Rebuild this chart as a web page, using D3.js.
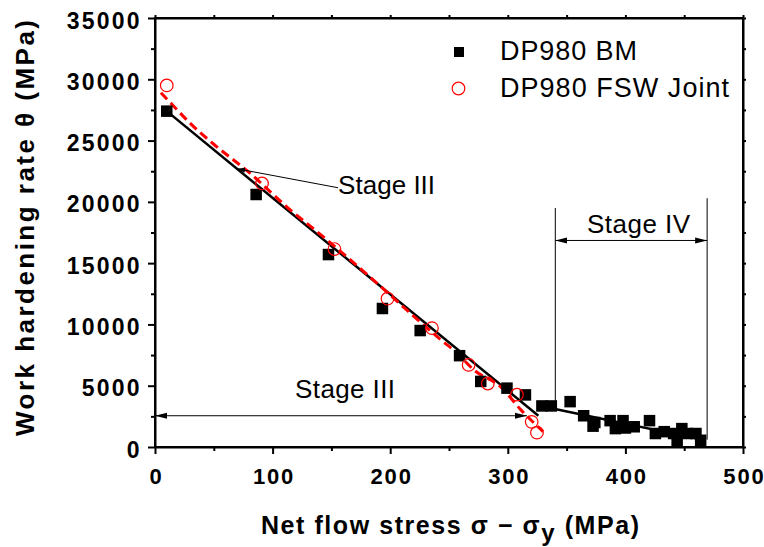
<!DOCTYPE html>
<html><head><meta charset="utf-8">
<script src="https://cdn.jsdelivr.net/npm/d3@7/dist/d3.min.js"></script>
<style>
body{margin:0;background:#fff}
svg{display:block;font-family:"Liberation Sans",Arial,sans-serif}
</style>
</head><body>
<script>
// ---------------- data ----------------
const xTicks = [0, 100, 200, 300, 400, 500];
const xMinor = [50, 150, 250, 350, 450];
const yTicks = [0, 5000, 10000, 15000, 20000, 25000, 30000, 35000];
const yMinor = [2500, 7500, 12500, 17500, 22500, 27500, 32500];

const bmX = [10, 86, 147.5, 193.4, 225.5, 259, 277, 299.3, 315, 329, 337, 353, 364.5, 372.5, 374, 387, 391.5, 398, 400, 407.5, 420.5, 425.5, 433, 441, 444, 448, 452.5, 460, 464];
const bmY = [27400, 20600, 15700, 11300, 9500, 7450, 5350, 4800, 4250, 3350, 3350, 3700, 2550, 1700, 2000, 2150, 1500, 2150, 1550, 1650, 2150, 1100, 1250, 1100, 450, 1500, 1100, 1100, 550];

const fswX = [10, 91, 152.6, 197.7, 235.5, 266.7, 283, 307.8, 320.3, 324.8];
const fswY = [29500, 21500, 16150, 12100, 9700, 6700, 5180, 4270, 2050, 1170];

const fitCurveX = [5, 15, 30, 50, 80, 112, 145, 186, 215, 243, 257, 271, 294, 311, 330];
const fitCurveY = [28900, 27900, 26400, 24700, 22400, 19600, 17000, 13600, 11100, 8750, 7650, 6300, 4900, 3050, 1250];

const fitLine1X = [10, 326];
const fitLine1Y = [27400, 2550];
const fitLine2X = [333, 465];
const fitLine2Y = [3250, 600];

const legendLabels = ["DP980 BM", "DP980 FSW Joint"];
const xTitle = ["Net flow stress \u03c3 \u2212 \u03c3", "y", " (MPa)"];
const yTitle = "Work hardening rate \u03b8 (MPa)";
const stageLabels = ["Stage III", "Stage III", "Stage IV"];

// ---------------- layout ----------------
const W = 764, H = 547;
const L = 155, R = 743, T = 18, B = 447;
const x = d3.scaleLinear().domain([0, 500]).range([L, R]);
const y = d3.scaleLinear().domain([0, 35000]).range([B, T]);

const svg = d3.select("body").append("svg").attr("width", W).attr("height", H);
svg.append("rect").attr("width", W).attr("height", H).attr("fill", "#fff");

const defs = svg.append("defs");
defs.append("marker").attr("id", "arr").attr("markerUnits", "userSpaceOnUse")
  .attr("markerWidth", 14).attr("markerHeight", 8).attr("refX", 12).attr("refY", 4)
  .attr("orient", "auto-start-reverse").attr("viewBox", "0 0 14 8")
  .append("path").attr("d", "M0,1 L12,4 L0,7 Z").attr("fill", "#000");
defs.append("marker").attr("id", "arrS").attr("markerUnits", "userSpaceOnUse")
  .attr("markerWidth", 10).attr("markerHeight", 6).attr("refX", 8).attr("refY", 3)
  .attr("orient", "auto-start-reverse").attr("viewBox", "0 0 10 6")
  .append("path").attr("d", "M0,0.5 L8,3 L0,5.5 Z").attr("fill", "#000");

function fitWidth(sel, target) {
  const node = sel.node();
  const n = node.getNumberOfChars();
  const nat = node.getComputedTextLength();
  const ls = (target - nat) / (n - 1);
  sel.style("letter-spacing", ls + "px");
  return ls;
}

// ---------------- axes ----------------
const tickLSx = 1.8, tickLSy = 2.2;
function styleAxis(g) {
  g.select(".domain").attr("stroke", "#000").attr("stroke-width", 2);
  g.selectAll(".tick line").attr("stroke", "#000").attr("stroke-width", 2);
}
// bottom
const gxB = svg.append("g").attr("transform", `translate(0,${B})`)
  .call(d3.axisBottom(x).tickValues(xTicks).tickSize(7).tickSizeOuter(0).tickFormat(d3.format("d")));
styleAxis(gxB);
gxB.selectAll("text").attr("y", 37).attr("dy", 0).attr("dx", tickLSx / 2)
  .attr("font-size", 22).attr("font-weight", "bold").attr("fill", "#000")
  .attr("font-family", "Liberation Sans, Arial, sans-serif").style("letter-spacing", tickLSx + "px");
const gxBm = svg.append("g").attr("transform", `translate(0,${B})`)
  .call(d3.axisBottom(x).tickValues(xMinor).tickSize(4).tickSizeOuter(0).tickFormat(""));
styleAxis(gxBm); gxBm.select(".domain").remove();
// left
const gyL = svg.append("g").attr("transform", `translate(${L},0)`)
  .call(d3.axisLeft(y).tickValues(yTicks).tickSize(7).tickSizeOuter(0).tickFormat(d3.format("d")));
styleAxis(gyL);
gyL.selectAll("text").attr("x", -15.5 + tickLSy).attr("dy", 0).attr("y", 10)
  .attr("font-size", 23).attr("font-weight", "bold").attr("fill", "#000")
  .attr("font-family", "Liberation Sans, Arial, sans-serif").style("letter-spacing", tickLSy + "px");
const gyLm = svg.append("g").attr("transform", `translate(${L},0)`)
  .call(d3.axisLeft(y).tickValues(yMinor).tickSize(4).tickSizeOuter(0).tickFormat(""));
styleAxis(gyLm); gyLm.select(".domain").remove();
// top
const gxT = svg.append("g").attr("transform", `translate(0,${T})`)
  .call(d3.axisTop(x).tickValues(xTicks.concat(xMinor)).tickSize(3).tickSizeOuter(0).tickFormat(""));
styleAxis(gxT);
// right
const gyR = svg.append("g").attr("transform", `translate(${R},0)`)
  .call(d3.axisRight(y).tickValues(yTicks.concat(yMinor)).tickSize(3).tickSizeOuter(0).tickFormat(""));
styleAxis(gyR);
// frame
svg.append("rect").attr("x", L).attr("y", T).attr("width", R - L).attr("height", B - T)
  .attr("fill", "none").attr("stroke", "#000").attr("stroke-width", 2);

// ---------------- axis titles ----------------
const xt = svg.append("text").attr("x", 261).attr("y", 534)
  .attr("font-size", 25).attr("font-weight", "bold").attr("fill", "#000");
xt.append("tspan").text(xTitle[0]);
xt.append("tspan").attr("dy", 7).attr("font-size", 24).text(xTitle[1]);
xt.append("tspan").attr("dy", -7).text(xTitle[2]);
fitWidth(xt, 378);

const yt = svg.append("text").attr("transform", "translate(34,436) rotate(-90)")
  .attr("font-size", 26).attr("font-weight", "bold").attr("fill", "#000").text(yTitle);
fitWidth(yt, 416);

// ---------------- fits ----------------
const line = d3.line().x(d => x(d[0])).y(d => y(d[1]));
svg.append("path").datum(d3.zip(fitLine1X, fitLine1Y)).attr("d", line)
  .attr("fill", "none").attr("stroke", "#000").attr("stroke-width", 2.5);
svg.append("path").datum(d3.zip(fitLine2X, fitLine2Y)).attr("d", line)
  .attr("fill", "none").attr("stroke", "#000").attr("stroke-width", 2.5);
svg.append("path").datum(d3.zip(fitCurveX, fitCurveY))
  .attr("d", line.curve(d3.curveMonotoneX))
  .attr("fill", "none").attr("stroke", "#ff0000").attr("stroke-width", 3)
  .attr("stroke-dasharray", "9,5");

// ---------------- annotations ----------------
const ann = svg.append("g").attr("stroke", "#000").attr("stroke-width", 1).attr("fill", "none");
ann.append("line").attr("x1", x(0)).attr("x2", x(316.3)).attr("y1", y(2550)).attr("y2", y(2550))
  .attr("marker-start", "url(#arr)").attr("marker-end", "url(#arr)");
ann.append("line").attr("x1", x(340.4)).attr("x2", x(340.4)).attr("y1", y(19500)).attr("y2", y(3600));
ann.append("line").attr("x1", x(469.5)).attr("x2", x(469.5)).attr("y1", y(20300)).attr("y2", y(600));
ann.append("line").attr("x1", x(340.4)).attr("x2", x(469.5)).attr("y1", y(16850)).attr("y2", y(16850))
  .attr("marker-start", "url(#arr)").attr("marker-end", "url(#arr)");
ann.append("line").attr("x1", x(155.7)).attr("y1", y(21150)).attr("x2", x(69.8)).attr("y2", y(22700))
  .attr("marker-end", "url(#arrS)");

const stagePos = [[155.7, 20660, 97], [119.1, 3997, 100], [367.4, 17455, 103]];
stageLabels.forEach((s, i) => {
  const t = svg.append("text").attr("x", x(stagePos[i][0])).attr("y", y(stagePos[i][1]))
    .attr("font-size", 26).attr("fill", "#000").text(s);
  fitWidth(t, stagePos[i][2]);
});

// ---------------- points ----------------
const sq = 11.5;
svg.append("g").selectAll("rect").data(d3.zip(bmX, bmY)).join("rect")
  .attr("x", d => x(d[0]) - sq / 2).attr("y", d => y(d[1]) - sq / 2)
  .attr("width", sq).attr("height", sq).attr("fill", "#000");
svg.append("g").selectAll("circle").data(d3.zip(fswX, fswY)).join("circle")
  .attr("cx", d => x(d[0])).attr("cy", d => y(d[1])).attr("r", 6.3)
  .attr("fill", "none").attr("stroke", "#ff0000").attr("stroke-width", 1.2);

// ---------------- legend ----------------
const lg = svg.append("g");
lg.append("rect").attr("x", 454).attr("y", 47).attr("width", 10).attr("height", 10).attr("fill", "#000");
lg.append("circle").attr("cx", 458.5).attr("cy", 88.5).attr("r", 6.3)
  .attr("fill", "none").attr("stroke", "#ff0000").attr("stroke-width", 1.2);
const lgW = [137, 229], lgY = [60, 97];
legendLabels.forEach((s, i) => {
  const t = lg.append("text").attr("x", 500).attr("y", lgY[i]).attr("font-size", 27).attr("fill", "#000").text(s);
  fitWidth(t, lgW[i]);
});
</script>
</body></html>
